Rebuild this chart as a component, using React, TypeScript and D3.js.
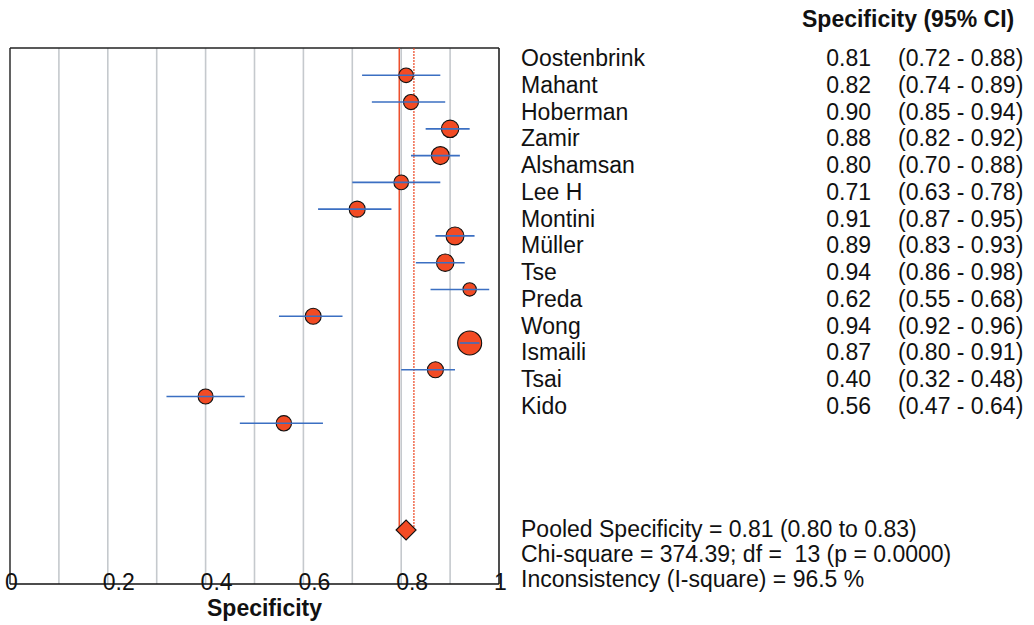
import React from "react";
import * as d3 from "d3";

const studies = ["Oostenbrink", "Mahant", "Hoberman", "Zamir", "Alshamsan", "Lee H", "Montini", "Müller", "Tse", "Preda", "Wong", "Ismaili", "Tsai", "Kido"];
const estimates = [0.81, 0.82, 0.90, 0.88, 0.80, 0.71, 0.91, 0.89, 0.94, 0.62, 0.94, 0.87, 0.40, 0.56];
const lower = [0.72, 0.74, 0.85, 0.82, 0.70, 0.63, 0.87, 0.83, 0.86, 0.55, 0.92, 0.80, 0.32, 0.47];
const upper = [0.88, 0.89, 0.94, 0.92, 0.88, 0.78, 0.95, 0.93, 0.98, 0.68, 0.96, 0.91, 0.48, 0.64];
const weights = [5.5, 5.8, 7.8, 8.3, 5.5, 6.6, 8.3, 7.8, 4.6, 6.6, 14.8, 6.6, 5.8, 6.1];
const pooled = 0.81;
const pooledLower = 0.796;
const pooledUpper = 0.826;
const xTicks = [0, 0.2, 0.4, 0.6, 0.8, 1];
const gridTicks = [0.1, 0.2, 0.3, 0.4, 0.5, 0.6, 0.7, 0.8, 0.9];
const summaryLines = [
  "Pooled Specificity = 0.81 (0.80 to 0.83)",
  "Chi-square = 374.39; df =  13 (p = 0.0000)",
  "Inconsistency (I-square) = 96.5 %",
];

const FONT = "'Liberation Sans', Arial, Helvetica, sans-serif";
const FILL = "#f24b24";
const BLUE = "#3b6fc2";

export default function App() {
  const left = 10, right = 499, top = 48, bottom = 584;
  const x = d3.scaleLinear().domain([0, 1]).range([left, right]);
  const yDot = d3.scaleLinear().domain([0, studies.length - 1]).range([75.3, 423.3]);
  const yText = d3.scaleLinear().domain([0, studies.length - 1]).range([66, 414]);
  const r = d3.scaleSqrt().domain([0, d3.max(weights) as number]).range([0, 12]);
  const diamondY = 530;
  const dH = 10, dW = 10;
  const fmt = d3.format(".2f");

  return (
    <svg width={1034} height={625} style={{ position: "absolute", left: 0, top: 0 }} fontFamily={FONT}>
      <rect x={0} y={0} width={1034} height={625} fill="#ffffff" />
      {gridTicks.map((t) => (
        <line key={"g" + t} x1={x(t)} x2={x(t)} y1={top} y2={bottom} stroke="#c5c9cd" strokeWidth={1.6} />
      ))}
      {/* frame */}
      <line x1={left} x2={left} y1={top} y2={bottom} stroke="#3a3a3a" strokeWidth={1.6} />
      <line x1={right} x2={right} y1={top} y2={bottom} stroke="#222" strokeWidth={1.6} />
      <line x1={left} x2={right} y1={top} y2={top} stroke="#222" strokeWidth={1.6} />
      {/* pooled lines */}
      <line x1={x(pooledLower)} x2={x(pooledLower)} y1={top} y2={diamondY} stroke="#ec4520" strokeWidth={1.4} />
      <line x1={x(pooledUpper)} x2={x(pooledUpper)} y1={top} y2={diamondY} stroke="#ec4520" strokeWidth={1.2} strokeDasharray="2,1" />
      {/* study markers */}
      {studies.map((s, i) => (
        <circle key={"c" + s} cx={x(estimates[i])} cy={yDot(i)} r={r(weights[i])} fill={FILL} stroke="#111" strokeWidth={1.1} />
      ))}
      {studies.map((s, i) => (
        <line key={"l" + s} x1={x(lower[i])} x2={x(upper[i])} y1={yDot(i)} y2={yDot(i)} stroke={BLUE} strokeWidth={1.6} />
      ))}
      {/* pooled diamond */}
      <path
        d={`M${x(pooled) - dW},${diamondY} L${x(pooled)},${diamondY - dH} L${x(pooled) + dW},${diamondY} L${x(pooled)},${diamondY + dH} Z`}
        fill={FILL}
        stroke="#111"
        strokeWidth={1.1}
      />
      {/* axis */}
      <line x1={left} x2={right} y1={bottom} y2={bottom} stroke="#111" strokeWidth={1.6} />
      {xTicks.map((t) => (
        <text key={"t" + t} x={x(t) - 5} y={590} fontSize={23} fill="#111">
          {String(t)}
        </text>
      ))}
      <text x={207} y={616} fontSize={23} fontWeight="bold" fill="#111">Specificity</text>
      {/* right table */}
      <text x={802} y={27} fontSize={23} fontWeight="bold" fill="#111">Specificity (95% CI)</text>
      {studies.map((s, i) => (
        <g key={"tx" + s}>
          <text x={521} y={yText(i)} fontSize={23} fill="#111">{s}</text>
          <text x={871} y={yText(i)} fontSize={23} fill="#111" textAnchor="end">{fmt(estimates[i])}</text>
          <text x={898} y={yText(i)} fontSize={23} fill="#111">{`(${fmt(lower[i])} - ${fmt(upper[i])})`}</text>
        </g>
      ))}
      {summaryLines.map((line, i) => (
        <text key={"s" + i} x={521} y={536.7 + i * 25} fontSize={23} fill="#111" style={{ whiteSpace: "pre" }}>
          {line}
        </text>
      ))}
    </svg>
  );
}
